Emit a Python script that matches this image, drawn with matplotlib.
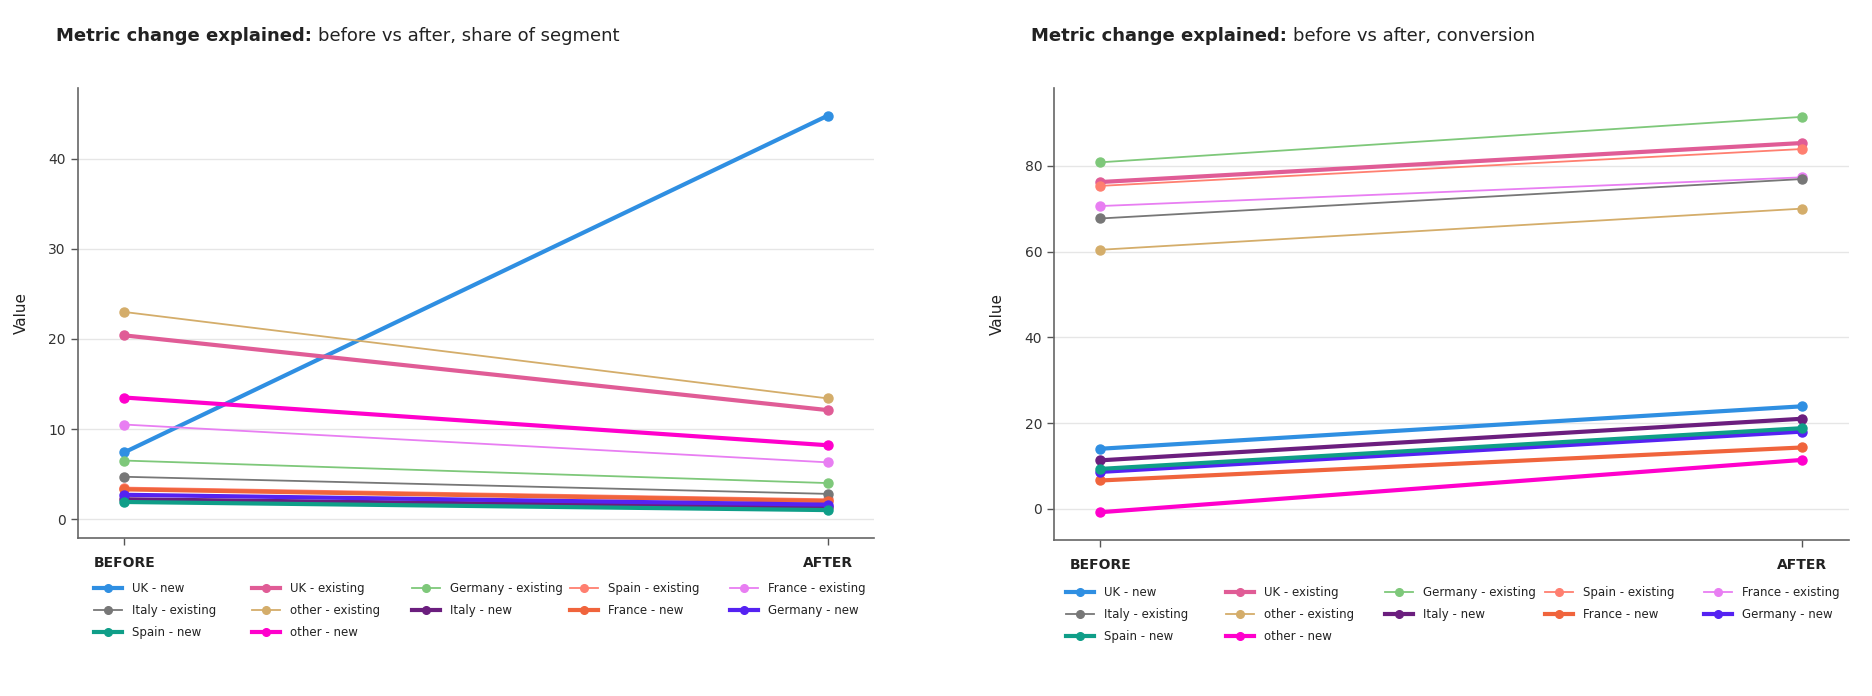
import matplotlib
matplotlib.use("Agg")
import matplotlib.pyplot as plt
from matplotlib.lines import Line2D

plt.rcParams['font.family'] = ['DejaVu Sans']

stages = ["BEFORE", "AFTER"]
series_names = ["UK - new", "UK - existing", "Germany - existing", "Spain - existing",
                "France - existing", "Italy - existing", "other - existing", "Italy - new",
                "France - new", "Germany - new", "Spain - new", "other - new"]
colors = ["#2f8fe2", "#e05c96", "#7ec87a", "#ff7f70", "#e87ef2", "#777777",
          "#d4ad6a", "#6b1e7e", "#f0643c", "#5522f2", "#0f9e88", "#ff00cc"]
thick = [True, True, False, False, False, False, False, True, True, True, True, True]

share_before = [7.4, 20.4, 6.5, 3.5, 10.5, 4.7, 23.0, 2.2, 3.3, 2.7, 1.9, 13.5]
share_after = [44.8, 12.1, 4.0, 2.2, 6.3, 2.8, 13.4, 1.3, 2.0, 1.6, 1.0, 8.2]

conv_before = [14.0, 76.2, 80.8, 75.3, 70.6, 67.7, 60.4, 11.3, 6.6, 8.6, 9.3, -0.8]
conv_after = [23.9, 85.3, 91.4, 83.9, 77.3, 76.9, 70.0, 21.0, 14.3, 18.0, 18.8, 11.4]

share_ticks = [0, 10, 20, 30, 40]
conv_ticks = [0, 20, 40, 60, 80]

W, H = 1872, 696
fig = plt.figure(figsize=(W / 100, H / 100), dpi=100)


def panel(rect, before, after, ticks, ylim, title_rest, title_x, leg_x, leg_y):
    ax = fig.add_axes(rect)
    for i, name in enumerate(series_names):
        lw = 3.0 if thick[i] else 1.3
        ax.plot([0, 1], [before[i], after[i]], color=colors[i], lw=lw,
                marker='o', markersize=6.5, solid_capstyle='round', zorder=3)
    ax.set_xlim(-0.066, 1.066)
    ax.set_ylim(*ylim)
    ax.set_xticks([0, 1])
    ax.set_xticklabels(stages, fontweight='bold', fontsize=10, color='#222222')
    ax.set_yticks(ticks)
    ax.tick_params(axis='y', labelsize=10, colors='#333333', length=5, width=1,
                   color='#555555')
    ax.tick_params(axis='x', length=5, width=1, color='#555555', pad=8)
    for s in ['top', 'right']:
        ax.spines[s].set_visible(False)
    for s in ['left', 'bottom']:
        ax.spines[s].set_color('#666666')
        ax.spines[s].set_linewidth(1.2)
    ax.yaxis.grid(True, color='#e6e6e6', lw=1.0, zorder=0)
    ax.set_axisbelow(True)
    ax.set_ylabel("Value", fontsize=11, color='#222222', labelpad=14)
    # title
    t = fig.text(title_x, 0.948, "Metric change explained:", fontsize=13,
                 fontweight='bold', color='#222222', va='center', ha='left')
    fig.canvas.draw()
    bb = t.get_window_extent()
    fig.text(bb.x1 / W + 0.003, 0.948, title_rest, fontsize=13, color='#222222',
             va='center', ha='left')
    # legend: 5 columns, row-major order
    ncol = 5
    for c in range(ncol):
        idx = list(range(c, len(series_names), ncol))
        handles = [Line2D([], [], color=colors[i], lw=3.0 if thick[i] else 1.3,
                          marker='o', markersize=5.5) for i in idx]
        labels = [series_names[i] for i in idx]
        fig.legend(handles, labels, loc='upper left',
                   bbox_to_anchor=(leg_x[c], leg_y), frameon=False, fontsize=8.5,
                   handlelength=2.4, handletextpad=0.8, labelspacing=0.75,
                   borderpad=0, borderaxespad=0, labelcolor='#222222')
    return ax


panel([0.0415, 0.227, 0.4255, 0.647], share_before, share_after, share_ticks,
      (-2.1, 47.9), "before vs after, share of segment", 0.030,
      [94 / W, 252 / W, 412 / W, 570 / W, 730 / W], 1 - 582 / H)
panel([0.563, 0.224, 0.4245, 0.650], conv_before, conv_after, conv_ticks,
      (-7.3, 98.2), "before vs after, conversion", 0.551,
      [1066 / W, 1226 / W, 1385 / W, 1545 / W, 1704 / W], 1 - 586 / H)

fig.savefig("out.png", dpi=100)
